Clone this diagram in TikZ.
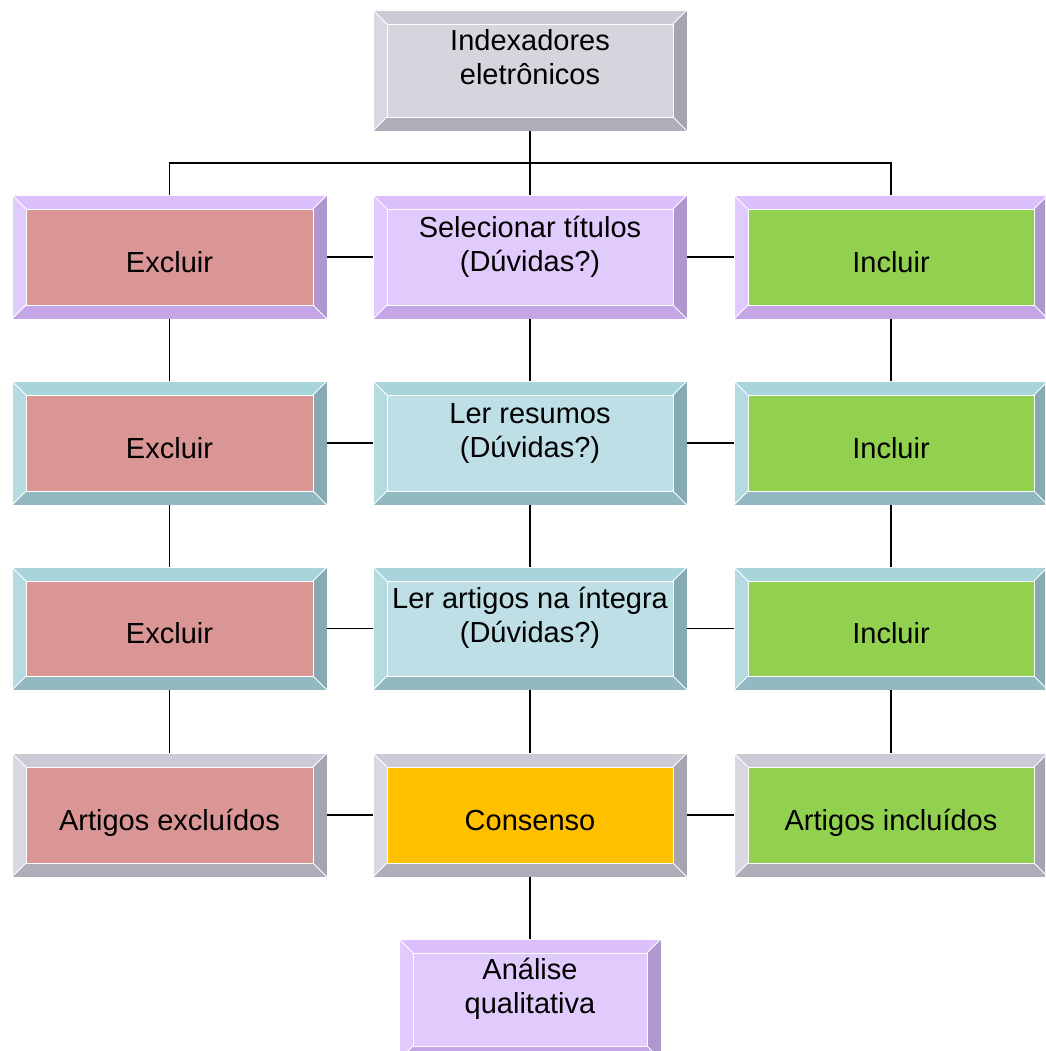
\documentclass[tikz,border=0pt]{standalone}
\usepackage{fontspec}
\setmainfont{Liberation Sans}
\usetikzlibrary{calc}
\definecolor{gT}{HTML}{CBCBD6}\definecolor{gL}{HTML}{D8D8E1}\definecolor{gR}{HTML}{A5A5B1}\definecolor{gB}{HTML}{AEAEBA}\definecolor{gF}{HTML}{D5D5DE}
\definecolor{pT}{HTML}{DCC0FD}\definecolor{pL}{HTML}{E1CAFD}\definecolor{pR}{HTML}{AF98CE}\definecolor{pB}{HTML}{C4A6E7}\definecolor{pF}{HTML}{E1CBFC}
\definecolor{tT}{HTML}{A8D4DC}\definecolor{tL}{HTML}{B5DBE1}\definecolor{tR}{HTML}{85AAB1}\definecolor{tB}{HTML}{92B9C1}\definecolor{tF}{HTML}{BDDFE5}
\definecolor{rF}{HTML}{D99694}\definecolor{vF}{HTML}{92D050}\definecolor{oF}{HTML}{FFC000}
\newcommand\bv{14}
% #1 name #2 cx #3 cy #4 w #5 h #6 scheme #7 face #8 text top offset #9 text
\newcommand\bevbox[9]{%
  \node[boxshape, minimum width=#4pt, minimum height=#5pt] (#1) at (#2,#3) {};
  \coordinate (#1a) at ($(#1.north west)+(\bv,\bv)$);
  \coordinate (#1b) at ($(#1.north east)+(-\bv,\bv)$);
  \coordinate (#1c) at ($(#1.south east)+(-\bv,-\bv)$);
  \coordinate (#1d) at ($(#1.south west)+(\bv,-\bv)$);
  \fill[#6T] (#1.north west) -- (#1.north east) -- (#1b) -- (#1a) -- cycle;
  \fill[#6L] (#1.north west) -- (#1a) -- (#1d) -- (#1.south west) -- cycle;
  \fill[#6R] (#1.north east) -- (#1.south east) -- (#1c) -- (#1b) -- cycle;
  \fill[#6B] (#1.south west) -- (#1d) -- (#1c) -- (#1.south east) -- cycle;
  \fill[#7] (#1a) rectangle (#1c);
  \draw[edge] (#1.north west) rectangle (#1.south east);
  \draw[edge] (#1a) rectangle (#1c);
  \draw[edge] (#1.north west) -- (#1a) (#1.north east) -- (#1b) (#1.south east) -- (#1c) (#1.south west) -- (#1d);
  \node[txt, anchor=north] (#1t) at ($(#1)+(0,#8)$) {#9};
}
\tikzset{
  boxshape/.style={inner sep=0pt, outer sep=0pt},
  edge/.style={white, line width=0.9pt},
  txt/.style={inner sep=0pt, align=center, font={\fontsize{29}{34}\selectfont}},
  conn/.style={black, line width=1.3pt},
}
\newcommand\two{-43.8}
\newcommand\one{-8.8}
\begin{document}
\begin{tikzpicture}[x=1pt,y=-1pt]
\clip (0,0) rectangle (1045,1051);
\fill[white] (0,0) rectangle (1045,1051);
\bevbox{top}{530}{70.5}{314}{121}{g}{gF}{\two}{\strut Indexadores\\\strut eletrônicos}
\bevbox{ex1}{169.5}{257}{315}{124}{p}{rF}{\one}{\strut Excluir}
\bevbox{sel}{530}{257}{314}{124}{p}{pF}{\two}{\strut Selecionar títulos\\\strut (Dúvidas?)}
\bevbox{in1}{891}{257}{314}{124}{p}{vF}{\one}{\strut Incluir}
\bevbox{ex2}{169.5}{443}{315}{124}{t}{rF}{\one}{\strut Excluir}
\bevbox{ler}{530}{443}{314}{124}{t}{tF}{\two}{\strut Ler resumos\\\strut (Dúvidas?)}
\bevbox{in2}{891}{443}{314}{124}{t}{vF}{\one}{\strut Incluir}
\bevbox{ex3}{169.5}{628.5}{315}{123}{t}{rF}{\one}{\strut Excluir}
\bevbox{art}{530}{628.5}{314}{123}{t}{tF}{\two}{\strut Ler artigos na íntegra\\\strut (Dúvidas?)}
\bevbox{in3}{891}{628.5}{314}{123}{t}{vF}{\one}{\strut Incluir}
\bevbox{exf}{169.5}{815}{315}{124}{g}{rF}{\one}{\strut Artigos excluídos}
\bevbox{con}{530}{815}{314}{124}{g}{oF}{\one}{\strut Consenso}
\bevbox{inf}{891}{815}{314}{124}{g}{vF}{\one}{\strut Artigos incluídos}
\bevbox{ana}{530}{999.5}{262}{121}{p}{pF}{\two}{\strut Análise\\\strut qualitativa}
\coordinate (bus) at (530,163);
\draw[conn] (top.south) -- (sel.north);
\draw[conn] (ex1.north) |- (bus) -| (in1.north);
\foreach \a/\b in {ex1/sel,ex2/ler,ex3/art,exf/con}{\draw[conn] (\a.east) -- (\b.west);}
\foreach \a/\b in {sel/in1,ler/in2,art/in3,con/inf}{\draw[conn] (\a.east) -- (\b.west);}
\foreach \a/\b in {ex1/ex2,ex2/ex3,ex3/exf,sel/ler,ler/art,art/con,in1/in2,in2/in3,in3/inf,con/ana}{\draw[conn] (\a.south) -- (\b.north);}
\end{tikzpicture}
\end{document}
